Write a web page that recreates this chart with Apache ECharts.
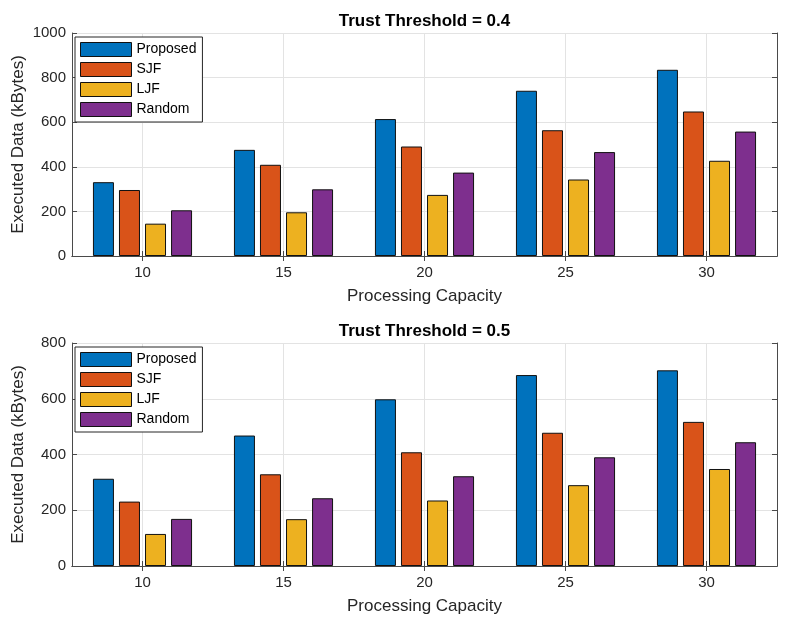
<!DOCTYPE html>
<html>
<head>
<meta charset="utf-8">
<script src="https://cdn.jsdelivr.net/npm/echarts@6/dist/echarts.min.js"></script>
<style>html,body{margin:0;padding:0;background:#fff}#c{width:788px;height:622px}</style>
</head>
<body>
<div id="c"></div>
<script>
const categories = ['10', '15', '20', '25', '30'];
const seriesNames = ['Proposed', 'SJF', 'LJF', 'Random'];
// Trust Threshold = 0.4
const top_Proposed = [331, 476, 614, 741, 835];
const top_SJF      = [296, 409, 491, 564, 648];
const top_LJF      = [145, 196, 274, 343, 427];
const top_Random   = [205, 299, 374, 466, 558];
// Trust Threshold = 0.5
const bot_Proposed = [313, 468, 598, 685, 702];
const bot_SJF      = [231, 329, 408, 478, 517];
const bot_LJF      = [115, 168, 235, 290, 348];
const bot_Random   = [169, 243, 322, 390, 444];
const titles = ['Trust Threshold = 0.4', 'Trust Threshold = 0.5'];
const yMax = [1000, 800];
const yTickStep = 200;

const colors = ['#0072BD', '#D95319', '#EDB120', '#7E2F8E'];
const FONT = 'Liberation Sans, Arial, Helvetica, sans-serif';
const AX = '#4a4a4a';
const TXT = '#262626';

const topData = [top_Proposed, top_SJF, top_LJF, top_Random];
const botData = [bot_Proposed, bot_SJF, bot_LJF, bot_Random];

const gridTops = [33, 343];
const grids = gridTops.map(t => ({left: 72, right: 11, top: t, height: 223, containLabel: false, outerBoundsMode: 'none'}));

const xAxes = [];
const yAxes = [];
[0, 1].forEach(i => {
  xAxes.push({
    type: 'category', gridIndex: i, data: categories, position: 'bottom',
    name: 'Processing Capacity', nameLocation: 'middle', nameGap: 32, nameMoveOverlap: false,
    nameTextStyle: {fontFamily: FONT, fontSize: 17, color: TXT},
    axisLine: {show: true, lineStyle: {color: AX, width: 1}},
    axisTick: {show: true, inside: true, alignWithLabel: true, length: 5, lineStyle: {color: AX}},
    axisLabel: {fontFamily: FONT, fontSize: 15, color: TXT, margin: 9},
    splitLine: {show: true, alignWithLabel: true, lineStyle: {color: '#e3e3e3', width: 1}}
  });
  xAxes.push({
    type: 'category', gridIndex: i, data: categories, position: 'top',
    axisLine: {show: true, lineStyle: {color: AX, width: 1}},
    axisTick: {show: true, inside: true, alignWithLabel: true, length: 5, lineStyle: {color: AX}},
    axisLabel: {show: false}, splitLine: {show: false}
  });
  yAxes.push({
    type: 'value', gridIndex: i, min: 0, max: yMax[i], interval: yTickStep, position: 'left',
    name: 'Executed Data (kBytes)', nameLocation: 'middle', nameGap: 45, nameMoveOverlap: false,
    nameTextStyle: {fontFamily: FONT, fontSize: 17, color: TXT},
    axisLine: {show: true, lineStyle: {color: AX, width: 1}},
    axisTick: {show: true, inside: true, length: 5, lineStyle: {color: AX}},
    axisLabel: {fontFamily: FONT, fontSize: 15, color: TXT, margin: 6, formatter: v => String(v)},
    splitLine: {show: true, lineStyle: {color: '#e3e3e3', width: 1}}
  });
  yAxes.push({
    type: 'value', gridIndex: i, min: 0, max: yMax[i], interval: yTickStep, position: 'right',
    axisLine: {show: true, lineStyle: {color: AX, width: 1}},
    axisTick: {show: true, inside: true, length: 5, lineStyle: {color: AX}},
    axisLabel: {show: false}, splitLine: {show: false}
  });
});

const series = [];
[topData, botData].forEach((dataset, i) => {
  dataset.forEach((vals, k) => {
    series.push({
      type: 'bar', name: seriesNames[k], xAxisIndex: i * 2, yAxisIndex: i * 2,
      data: vals, barWidth: 21, barGap: '24%',
      itemStyle: {color: colors[k], borderColor: '#111', borderWidth: 1},
      emphasis: {disabled: true}, animation: false
    });
  });
});

const legends = gridTops.map(t => ({
  orient: 'vertical', left: 75, top: t + 4,
  data: seriesNames, itemWidth: 51, itemHeight: 14, itemGap: 5,
  padding: [5, 6, 5, 5], backgroundColor: '#fff', borderColor: '#262626', borderWidth: 1,
  icon: 'rect', selectedMode: false,
  itemStyle: {borderColor: '#111', borderWidth: 1},
  textStyle: {fontFamily: FONT, fontSize: 14, color: '#000', padding: [0, 0, 0, 0]}
}));

const titleOpts = titles.map((t, i) => ({
  text: t, left: 72 + 705 / 2, textAlign: 'center', top: gridTops[i] - 20, padding: 0,
  textStyle: {fontFamily: FONT, fontSize: 17, fontWeight: 'bold', color: '#000'}
}));

const chart = echarts.init(document.getElementById('c'), null, {renderer: 'canvas'});
chart.setOption({
  animation: false, backgroundColor: '#fff', color: colors,
  title: titleOpts, grid: grids, xAxis: xAxes, yAxis: yAxes, legend: legends, series: series
});
</script>
</body>
</html>
